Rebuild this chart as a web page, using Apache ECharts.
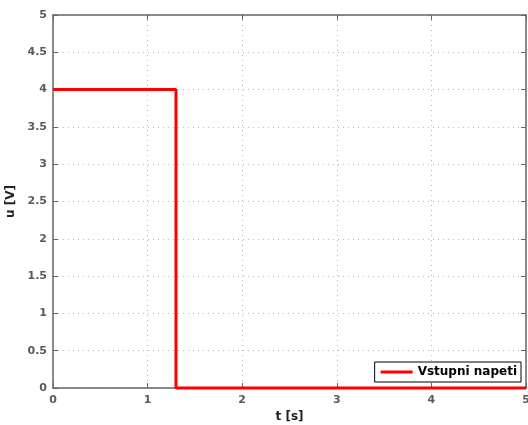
<!DOCTYPE html>
<html>
<head>
<meta charset="utf-8">
<script src="https://cdn.jsdelivr.net/npm/echarts@6/dist/echarts.min.js"></script>
<style>html,body{margin:0;padding:0;background:#fff;}#c{width:528px;height:425px;}</style>
</head>
<body>
<div id="c"></div>
<script>
var timeValues = [0, 1.3, 1.3, 5];
var voltageValues = [4, 4, 0, 0];
var seriesName = 'Vstupni napeti';
var xTicks = [0, 1, 2, 3, 4, 5];
var yTicks = [0, 0.5, 1, 1.5, 2, 2.5, 3, 3.5, 4, 4.5, 5];

var chart = echarts.init(document.getElementById('c'), null, {renderer: 'canvas'});
var font = 'DejaVu Sans, Liberation Sans, Arial, sans-serif';
var axisCol = '#666666';
var gridLine = {show: true, lineStyle: {color: '#b8b8b8', type: [1, 4], width: 1}};
var labelStyle = {color: '#5a5a5a', fontWeight: 'bold', fontSize: 11, fontFamily: font};

chart.setOption({
  animation: false,
  grid: {left: 53, right: 2, top: 15, bottom: 37, containLabel: false, outerBoundsMode: 'none'},
  legend: {
    data: [{name: seriesName, icon: 'rect'}],
    right: 7, bottom: 43,
    itemWidth: 32, itemHeight: 3, itemGap: 4,
    padding: [4, 4, 4, 6],
    borderColor: '#000', borderWidth: 1, backgroundColor: '#fff',
    textStyle: {color: '#000', fontWeight: 'bold', fontSize: 12, fontFamily: font}
  },
  xAxis: [{
    type: 'value', min: 0, max: 5, interval: 1,
    name: 't [s]', nameLocation: 'middle', nameGap: 21,
    nameTextStyle: {color: '#222', fontWeight: 'bold', fontSize: 12, fontFamily: font},
    axisLine: {show: true, onZero: false, lineStyle: {color: axisCol, width: 1.5}},
    axisTick: {show: true, inside: true, length: 5, lineStyle: {color: axisCol}},
    axisLabel: Object.assign({margin: 7, formatter: function (v) { return String(v); }}, labelStyle),
    splitLine: gridLine
  }, {
    type: 'value', min: 0, max: 5, interval: 1, position: 'top',
    axisLine: {show: true, onZero: false, lineStyle: {color: axisCol, width: 1.5}},
    axisTick: {show: true, inside: true, length: 5, lineStyle: {color: axisCol}},
    axisLabel: {show: false}, splitLine: {show: false}
  }],
  yAxis: [{
    type: 'value', min: 0, max: 5, interval: 0.5,
    name: 'u [V]', nameLocation: 'middle', nameGap: 34, nameRotate: 90,
    nameTextStyle: {color: '#222', fontWeight: 'bold', fontSize: 12, fontFamily: font},
    axisLine: {show: true, onZero: false, lineStyle: {color: axisCol, width: 1.5}},
    axisTick: {show: true, inside: true, length: 5, lineStyle: {color: axisCol}},
    axisLabel: Object.assign({margin: 6, formatter: function (v) { return String(v); }}, labelStyle),
    splitLine: gridLine
  }, {
    type: 'value', min: 0, max: 5, interval: 0.5, position: 'right',
    axisLine: {show: true, onZero: false, lineStyle: {color: axisCol, width: 1.5}},
    axisTick: {show: true, inside: true, length: 5, lineStyle: {color: axisCol}},
    axisLabel: {show: false}, splitLine: {show: false}
  }],
  series: [{
    name: seriesName,
    type: 'line',
    xAxisIndex: 0, yAxisIndex: 0,
    data: timeValues.map(function (t, i) { return [t, voltageValues[i]]; }),
    showSymbol: false,
    clip: false,
    z: 10,
    color: '#ff0000',
    lineStyle: {color: '#ff0000', width: 3}
  }]
});
</script>
</body>
</html>
